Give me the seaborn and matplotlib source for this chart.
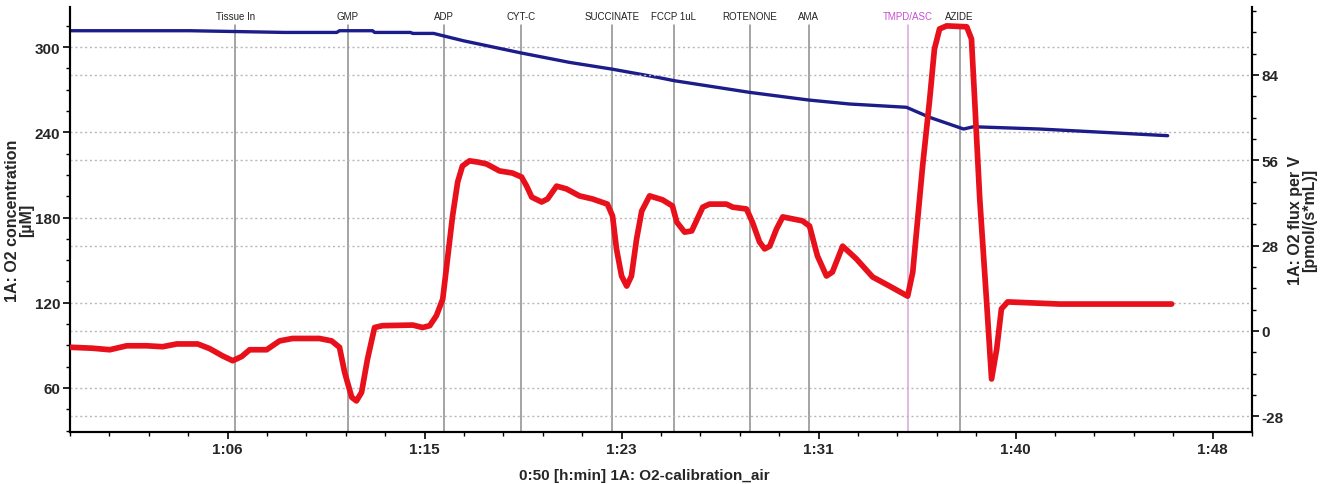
import matplotlib
matplotlib.use("Agg")
import matplotlib.pyplot as plt
import matplotlib.transforms as mtransforms
from matplotlib.ticker import FixedLocator, MultipleLocator, FixedFormatter
import seaborn as sns
import pandas as pd

# ---------------- data ----------------
# time in seconds (1:00:00 = 3600 s)
blue_t = [3599, 3904, 4145, 4277, 4284, 4368, 4373, 4464, 4470, 4523, 4546, 4599,
          4746, 4868, 4975, 5091, 5134, 5325, 5475, 5579, 5723, 5782, 5868, 5893,
          6061, 6221, 6386]
blue_v = [311.5, 311.5, 310.3, 310.3, 311.5, 311.5, 310.3, 310.3, 309.6, 309.6, 308.0,
          304.4, 295.8, 289.2, 284.5, 278.7, 276.3, 268.1, 262.7, 259.9, 257.6, 250.5,
          242.3, 243.9, 242.3, 240.0, 237.6]

red_t = [3603, 3657, 3701, 3744, 3794, 3835, 3871, 3924, 3954, 3987,
         4013, 4036, 4056, 4099, 4132, 4165, 4233, 4264, 4284, 4297,
         4315, 4327, 4340, 4355, 4373, 4393, 4470, 4495, 4513, 4530,
         4546, 4556, 4571, 4584, 4596, 4614, 4635, 4657, 4690, 4723,
         4746, 4759, 4772, 4797, 4812, 4835, 4860, 4893, 4926, 4964,
         4977, 4987, 5000, 5013, 5025, 5038, 5051, 5071, 5104, 5129,
         5140, 5160, 5178, 5206, 5223, 5266, 5282, 5317, 5332, 5350,
         5363, 5376, 5393, 5409, 5459, 5477, 5497, 5520, 5535, 5561,
         5596, 5637, 5680, 5726, 5739, 5764, 5782, 5794, 5807, 5825,
         5876, 5888, 5896, 5909, 5926, 5939, 5952, 5964, 5980, 6112,
         6239, 6396]
red_v = [-5.4, -5.7, -6.2, -4.9, -4.9, -5.2, -4.3, -4.3, -5.8, -8.2,
         -9.8, -8.4, -6.2, -6.2, -3.3, -2.5, -2.5, -3.3, -5.4, -13.6,
         -21.8, -23.0, -20.2, -9.3, 1.1, 1.7, 1.9, 1.1, 1.7, 5.0,
         10.4, 21.3, 37.7, 48.9, 54.1, 55.8, 55.4, 54.8, 52.5, 51.8,
         50.5, 47.5, 43.9, 42.3, 43.3, 47.5, 46.6, 44.3, 43.3, 41.6,
         37.7, 26.9, 18.0, 14.7, 18.0, 30.1, 39.3, 44.3, 43.0, 41.0,
         35.7, 32.4, 32.8, 40.6, 41.6, 41.6, 40.6, 40.0, 35.7, 29.2,
         26.9, 27.8, 33.4, 37.4, 36.1, 34.4, 24.6, 18.0, 19.3, 27.8,
         23.6, 17.7, 14.7, 11.4, 19.3, 54.1, 76.1, 92.5, 99.1, 100.1,
         99.8, 95.8, 76.1, 43.3, 10.4, -15.8, -6.0, 7.2, 9.5, 8.8,
         8.8, 8.8]

event_t = [4020, 4305, 4548, 4744, 4975, 5132, 5325, 5475, 5726, 5858]
event_labels = ["Tissue In", "GMP", "ADP", "CYT-C", "SUCCINATE", "FCCP 1uL",
                "ROTENONE", "AMA", "TMPD/ASC", "AZIDE"]

xtick_pos = [4000, 4500, 5000, 5500, 6000, 6500]
xtick_labels = ["1:06", "1:15", "1:23", "1:31", "1:40", "1:48"]
left_ticks = [60, 120, 180, 240, 300]
right_ticks = [-28, 0, 28, 56, 84]

# ---------------- style ----------------
sns.set_style("white")
plt.rcParams['font.family'] = ['Liberation Sans', 'DejaVu Sans']
plt.rcParams['axes.unicode_minus'] = False

BLUE = "#1c1c8a"
RED = "#e8111b"
GRID = "#b8b8b8"

fig = plt.figure(figsize=(13.25, 4.85), dpi=100)
ax = fig.add_axes([70 / 1325, 52 / 485, 1182 / 1325, 425 / 485])
ax2 = ax.twinx()

df_blue = pd.DataFrame({"t": blue_t, "v": blue_v})
df_red = pd.DataFrame({"t": red_t, "v": red_v})

ax.set_xlim(3600, 6600)
ax.set_ylim(29.0, 328.2)
ax2.set_ylim(-33.2, 106.3)

# grid lines from both axes
for y in left_ticks:
    ax.axhline(y, color=GRID, lw=1.0, ls=(0, (1.5, 2.0)), zorder=0)
for y in right_ticks:
    ax2.axhline(y, color=GRID, lw=1.0, ls=(0, (1.5, 2.0)), zorder=0)

# event lines and labels
trans = mtransforms.blended_transform_factory(ax.transData, ax.transAxes)
for t, lab in zip(event_t, event_labels):
    is_tmpd = lab.startswith("TMPD")
    lc = "#d9a6dc" if is_tmpd else "#8c8c8c"
    tc = "#c94fd0" if is_tmpd else "#222222"
    ax.axvline(t, ymin=0, ymax=0.958, color=lc, lw=1.1, zorder=1)
    ax.text(t, 0.979, lab, transform=trans, ha="center", va="center",
            fontsize=7, color=tc)

sns.lineplot(data=df_blue, x="t", y="v", ax=ax, color=BLUE, lw=2.4,
             estimator=None, sort=False, zorder=3)
sns.lineplot(data=df_red, x="t", y="v", ax=ax2, color=RED, lw=4.1,
             estimator=None, sort=False, zorder=3,
             solid_joinstyle="round", solid_capstyle="round")

# ticks
ax.xaxis.set_major_locator(FixedLocator(xtick_pos))
ax.xaxis.set_major_formatter(FixedFormatter(xtick_labels))
ax.xaxis.set_minor_locator(MultipleLocator(100))
ax.yaxis.set_major_locator(FixedLocator(left_ticks))
ax.yaxis.set_minor_locator(MultipleLocator(15))
ax2.yaxis.set_major_locator(FixedLocator(right_ticks))
ax2.yaxis.set_minor_locator(MultipleLocator(7))

for a in (ax, ax2):
    a.tick_params(which="major", direction="out", length=5, width=1.2, color="black",
                  labelsize=11, pad=2)
    a.tick_params(which="minor", direction="out", length=3, width=1.0, color="black")
    for lab in a.get_xticklabels() + a.get_yticklabels():
        lab.set_fontweight("bold")
ax.tick_params(axis="x", which="both", bottom=True)
ax.tick_params(axis="y", which="both", left=True)
ax2.tick_params(axis="y", which="both", right=True)

for a in (ax, ax2):
    a.spines["top"].set_visible(False)
    for s in ("left", "right", "bottom"):
        a.spines[s].set_color("black")
        a.spines[s].set_linewidth(1.5)

ax.set_xlabel("0:50 [h:min] 1A: O2-calibration_air", fontsize=11, fontweight="bold")
ax.xaxis.set_label_coords(0.486, -0.085)
ax.set_ylabel("1A: O2 concentration\n[µM]", fontsize=11.5, fontweight="bold",
              linespacing=0.95)
ax.yaxis.set_label_coords(-0.0305, 0.5)
ax2.set_ylabel("1A: O2 flux per V\n[pmol/(s*mL)]", fontsize=11.5, fontweight="bold",
               linespacing=0.95)
ax2.yaxis.set_label_coords(1.0305, 0.5)

fig.savefig("out.png", dpi=100, facecolor="white")
